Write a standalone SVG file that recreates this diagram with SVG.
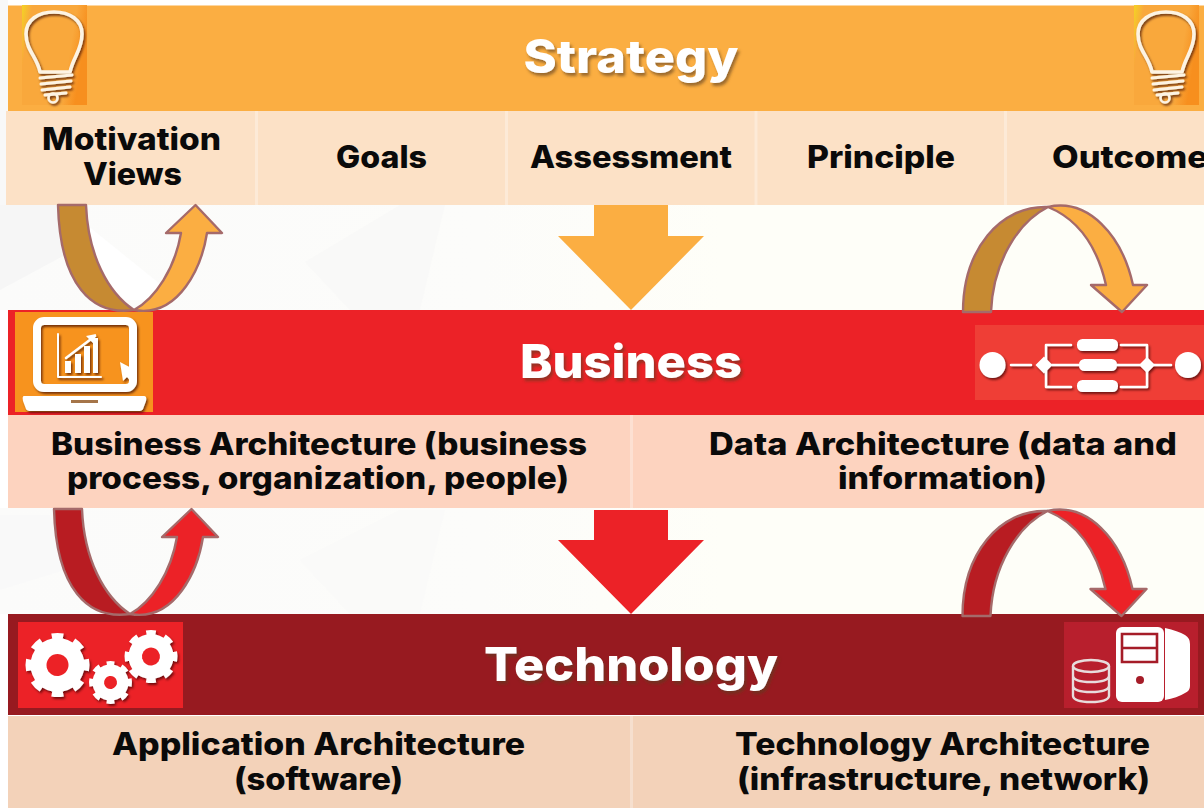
<svg xmlns="http://www.w3.org/2000/svg" width="1204" height="809" viewBox="0 0 1204 809">
<style>
text{font-family:"Inter","Liberation Sans",sans-serif;font-weight:800;fill:#0a0a0a;text-anchor:middle}
.h{fill:#fff;font-size:46px;filter:url(#ts)}
.s{font-size:31px}
.div{stroke:#fff;stroke-opacity:.3;stroke-width:3}
.ar{stroke:#a56a6a;stroke-width:2.400;stroke-linejoin:round}
.w{fill:#fff}
.l{fill:none;stroke:#fff;stroke-linecap:round;stroke-linejoin:round}
.b{fill:none;stroke:#fdf3e3;stroke-linecap:round;stroke-linejoin:round}
</style>
<defs>
<filter id="ts" x="-10%" y="-20%" width="120%" height="150%"><feDropShadow dx="2" dy="3" stdDeviation="1.5" flood-color="#5a3a20" flood-opacity=".6"/></filter>
<filter id="is" x="-15%" y="-15%" width="130%" height="130%"><feGaussianBlur in="SourceGraphic" stdDeviation=".6" result="b"/><feDropShadow in="b" dx="1.500" dy="2" stdDeviation="1.200" flood-color="#300" flood-opacity=".65"/></filter>
<linearGradient id="bulbBg" x1="0" x2="1" y1="0" y2=".25"><stop offset="0" stop-color="#f4d324"/><stop offset=".15" stop-color="#f9a83c"/><stop offset=".8" stop-color="#f9a83c"/><stop offset="1" stop-color="#f78f1e"/></linearGradient>
<linearGradient id="gap" x1="0" x2="1"><stop offset="0" stop-color="#fbfbfa"/><stop offset=".4" stop-color="#fcfcfa"/><stop offset=".6" stop-color="#fefef8"/></linearGradient>
<g id="bulb">
<path d="M0 0h65v100H0z" fill="url(#bulbBg)"/>
<g filter="url(#is)">
<path class="b" stroke-width="3.600" d="M18 67C15 52 4 45 4 29 4 15 16 7 32 7S60 15 60 29C60 45 51 52 48 67z"/>
<path class="b" stroke-width="3" d="M18 73L50 70M19 79L49 76M20 85L48 82M23 90L44 88"/>
<circle class="b" cx="31" cy="93" r="4.500" stroke-width="2.600"/>
</g>
</g>
<g id="gear8"><circle r="27" class="w"/></g>
</defs>

<g id="background">
<rect width="1204" height="809" fill="#fff"/>
<rect x="0" y="205" width="1204" height="105" fill="url(#gap)"/>
<rect x="0" y="508" width="1204" height="106" fill="url(#gap)"/>
<path d="M0 205H60L65 255 0 290z" fill="#f6f6f6"/>
<path d="M66 208L180 300H110z" fill="#fff"/>
<path d="M305 262L400 205H445L420 310H350z" fill="#f9f9f8"/>
<path d="M0 515H50L65 570 0 590z" fill="#f9f9f9"/>
<path d="M300 560L400 510H445L420 614H350z" fill="#fafaf9"/>
<path d="M0 0H8V205H0z" fill="#f8f8f8"/>
</g>

<g id="strategy">
<rect x="8" y="5.500" width="1196" height="105.500" fill="#fbae42"/>
<use href="#bulb" x="22" y="5"/>
<use href="#bulb" x="1134" y="5"/>
<text class="h" x="631" y="73" textLength="215" lengthAdjust="spacingAndGlyphs">Strategy</text>
</g>
<g id="strategy-row">
<rect x="6" y="111" width="1198" height="94" fill="#fce1c6"/>
<path class="div" d="M256.500 111V205M506.500 111V205M756 111V205M1005.500 111V205"/>
<text class="s" x="131.500" y="150" textLength="179" lengthAdjust="spacingAndGlyphs">Motivation</text>
<text class="s" x="132.500" y="185" textLength="99" lengthAdjust="spacingAndGlyphs">Views</text>
<text class="s" x="381.500" y="168" textLength="91" lengthAdjust="spacingAndGlyphs">Goals</text>
<text class="s" x="631" y="168" textLength="202" lengthAdjust="spacingAndGlyphs">Assessment</text>
<text class="s" x="881" y="168" textLength="148" lengthAdjust="spacingAndGlyphs">Principle</text>
<text class="s" x="1130" y="168" textLength="156" lengthAdjust="spacingAndGlyphs">Outcome</text>
</g>

<g id="business">
<rect x="8" y="310" width="1196" height="105" fill="#ec2227"/>
<rect x="15" y="312" width="138" height="100" fill="#f7931e"/>
<g filter="url(#is)">
<rect x="37" y="321" width="96" height="67" rx="7" fill="none" stroke="#fff" stroke-width="8"/>
<path class="l" stroke-width="2" d="M58 334V377H101"/>
<path class="w" d="M65 373h6V361h-6zM75 373h6V354h-6zM84 373h6V346h-6zM93 373h5V338h-5z"/>
<path class="l" stroke-width="2.500" d="M66 358L95 336"/>
<path class="w" d="M86 336l10-2-3 9zM120 362l3 19 4-4 5 6 5-3-5-6 5-3z"/>
<path class="w" d="M24 396H144q3 0 2 5l-3 8q-1 2-5 2H31q-4 0-5-2l-3-8q-1-5 1-5z"/>
<rect x="71" y="400" width="27" height="3" fill="#a5744a"/>
</g>
<rect x="975" y="325" width="229" height="75" fill="#ef3e36"/>
<g filter="url(#is)">
<circle cx="992.500" cy="365" r="13" class="w"/>
<circle cx="1188" cy="365" r="13" class="w"/>
<path class="l" stroke-width="2.500" d="M1011 365H1031M1052 365H1079M1117 365H1140M1154 365H1171M1071 345H1046V387H1071M1121 345H1147V387H1121"/>
<path class="w" d="M1044 356.500L1052.500 365 1044 373.500 1035.500 365zM1147 357L1155 365 1147 373 1139 365z"/>
<rect x="1077" y="339" width="41" height="12" rx="5.500" class="w"/>
<rect x="1079" y="359" width="38" height="12" rx="5.500" class="w"/>
<rect x="1077" y="380" width="41" height="12" rx="5.500" class="w"/>
</g>
<text class="h" x="631" y="378" textLength="222" lengthAdjust="spacingAndGlyphs">Business</text>
</g>
<g id="business-row">
<rect x="8" y="415" width="1196" height="93" fill="#fdd3bf"/>
<path class="div" d="M631.500 415V508"/>
<text class="s" x="319" y="455" textLength="536" lengthAdjust="spacingAndGlyphs">Business Architecture (business</text>
<text class="s" x="318" y="489" textLength="502" lengthAdjust="spacingAndGlyphs">process, organization, people)</text>
<text class="s" x="943" y="455" textLength="468" lengthAdjust="spacingAndGlyphs">Data Architecture (data and</text>
<text class="s" x="942.500" y="489" textLength="209" lengthAdjust="spacingAndGlyphs">information)</text>
</g>

<g id="technology">
<rect x="8" y="614" width="1196" height="101" fill="#971a20"/>
<rect x="18" y="622" width="165" height="86" fill="#ec2227"/>
<g filter="url(#is)">
<g transform="translate(57.500 665) rotate(-11.250)">
<circle r="27" class="w"/>
<circle r="28.500" fill="none" stroke="#fff" stroke-width="7" pathLength="16" stroke-dasharray="1 1"/>
<circle r="11" fill="#ec2227"/>
</g>
<g transform="translate(110.500 682.500) rotate(-11.250)">
<circle r="18" class="w"/>
<circle r="19" fill="none" stroke="#fff" stroke-width="5" pathLength="16" stroke-dasharray="1 1"/>
<circle r="6.500" fill="#ec2227"/>
</g>
<g transform="translate(151 656.500) rotate(-11.250)">
<circle r="22.500" class="w"/>
<circle r="23.500" fill="none" stroke="#fff" stroke-width="6" pathLength="16" stroke-dasharray="1 1"/>
<circle r="9" fill="#ec2227"/>
</g>
</g>
<rect x="1064" y="622" width="134" height="86" fill="#b81f2d"/>
<g>
<rect x="1116" y="627" width="48" height="75" rx="6" class="w"/>
<path class="w" d="M1165 628Q1178 631 1185 635 1190 638 1190 644V686Q1190 691 1185 693 1177 698 1165 700z"/>
<path d="M1122 634H1157V662H1122zM1122 648H1157" fill="none" stroke="#a51c28" stroke-width="2.600"/>
<circle cx="1140" cy="680" r="4" fill="#a51c28"/>
<g fill="none" stroke="#e8dcdc" stroke-width="2.400">
<ellipse cx="1091" cy="666" rx="18" ry="6"/>
<path d="M1073 666V696Q1074 702 1091 702T1109 696V666M1073 676Q1074 682 1091 682T1109 676M1073 686Q1074 692 1091 692T1109 686"/>
</g>
</g>
<text class="h" x="631" y="681" textLength="294" lengthAdjust="spacingAndGlyphs">Technology</text>
</g>
<g id="technology-row">
<rect x="8" y="716" width="1196" height="92" fill="#f3d2b9"/>
<path class="div" d="M631.500 716V808"/>
<text class="s" x="318.500" y="755" textLength="413" lengthAdjust="spacingAndGlyphs">Application Architecture</text>
<text class="s" x="318.500" y="790" textLength="169" lengthAdjust="spacingAndGlyphs">(software)</text>
<text class="s" x="942.500" y="755" textLength="415" lengthAdjust="spacingAndGlyphs">Technology Architecture</text>
<text class="s" x="943.500" y="790" textLength="413" lengthAdjust="spacingAndGlyphs">(infrastructure, network)</text>
</g>

<g id="connectors">
<path fill="#fbae42" d="M594 205H668V236H704L631 310 558 236H594z"/>
<path fill="#ec2227" d="M594 510H668V540H704L631 614 558 540H594z"/>
<path class="ar" fill="#c68a32" d="M58 205H86C88 255 108 293 134 310 92 316 60 285 58 205z"/>
<path class="ar" fill="#fbae42" d="M134 310C156 298 175 268 181 233H166L195.500 205 222 233H207C202 265 180 318 134 310z"/>
<path class="ar" fill="#c68a32" d="M963 312C963 250 1000 205 1048 207 1018 222 993 262 991 312z"/>
<path class="ar" fill="#fbae42" d="M1048 207C1080 220 1098 250 1106 285H1091L1122 312 1147 285H1133C1122 235 1088 198 1048 207z"/>
<g transform="translate(-4 304)">
<path class="ar" fill="#b81c22" d="M58 205H86C88 255 108 293 134 310 92 316 60 285 58 205z"/>
<path class="ar" fill="#ec2227" d="M134 310C156 298 175 268 181 233H166L195.500 205 222 233H207C202 265 180 318 134 310z"/>
</g>
<g transform="translate(-0.500 304)">
<path class="ar" fill="#b81c22" d="M963 312C963 250 1000 205 1048 207 1018 222 993 262 991 312z"/>
<path class="ar" fill="#ec2227" d="M1048 207C1080 220 1098 250 1106 285H1091L1122 312 1147 285H1133C1122 235 1088 198 1048 207z"/>
</g>
</g>
</svg>
